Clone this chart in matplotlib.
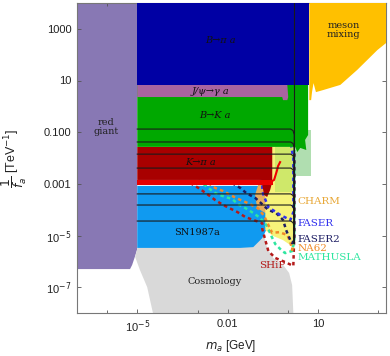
import numpy as np
import matplotlib.pyplot as plt

# region boundaries as log10(m_a / GeV), log10(1/f_a / TeV^-1)
rg_m = [-7, -5, -5, -5.07, -5.17, -5.24, -7]
rg_f = [4, 4, -5.52, -5.79, -6.14, -6.30, -6.30]

cosmo_m = [-5.0, -5.07, -4.91, -4.67, -4.48, 0.18, 0.14, 0.04, -0.16, -0.49, -0.69, -0.79, -0.85, -5.0]
cosmo_f = [-5.52, -5.83, -6.34, -7.0, -8.0, -8.0, -6.92, -6.45, -6.14, -5.87, -5.48, -4.98, -4.79, -4.79]

sn_m = [-5, -0.72, -0.72, -0.85, -1.15, -1.58, -5]
sn_f = [-3.08, -3.08, -4.79, -5.10, -5.45, -5.48, -5.48]

charm_m = [-0.65, -0.36, -0.36, -0.49, -0.75, -1.02, -1.09, -0.99]
charm_f = [-1.57, -1.57, -3.43, -4.01, -4.13, -3.94, -3.43, -3.05]

yellow_m = [-0.75, 0.21, 0.21, 0.08, -0.16, -0.49, -0.75]
yellow_f = [-1.57, -1.57, -5.56, -5.37, -5.18, -5.02, -4.79]

ygreen_m = [-0.42, 0.21, 0.21, -0.42]
ygreen_f = [-1.57, -1.57, -3.32, -3.32]

lgreen_m = [0.21, 0.76, 0.76, 0.21]
lgreen_f = [-0.92, -0.92, -2.70, -2.70]

kpi_m = [-5, -0.52, -0.52, -0.59, -0.69, -0.79, -0.85, -0.85, -5]
kpi_f = [-1.57, -1.57, -2.93, -3.24, -3.51, -3.43, -3.05, -2.85, -2.85]

kpi2_m = [-5, -0.49, -0.49, -5]
kpi2_f = [-2.85, -2.85, -3.05, -3.05]

e949_m = [-0.59, -0.52, -0.46, -0.42, -0.36, -0.33, -0.26]
e949_f = [-3.0, -2.89, -2.85, -2.70, -2.47, -2.32, -2.16]

bk_m = [-5, 0.67, 0.67, 0.57, 0.61, 0.41, 0.31, 0.24, -5]
bk_f = [0.83, 0.83, -1.11, -1.30, -1.69, -1.61, -1.77, -1.57, -1.57]

jpsi_m = [-5, -0.02, 0.01, -0.02, -0.16, -0.19, -5]
jpsi_f = [0.83, 0.83, 0.36, 0.24, 0.24, 0.36, 0.36]

bpi_m = [-5, 0.71, 0.71, -5]
bpi_f = [4, 4, 0.83, 0.83]

meson_m = [0.71, 3.3, 3.3, 2.97, 2.30, 1.74, 1.17, 0.93, 0.85, 0.80, 0.77, 0.71]
meson_f = [4, 4, 2.49, 2.18, 1.41, 0.83, 0.63, 0.55, 0.90, 0.55, 0.24, 0.24]

# projected sensitivities (dashed)
ship_m = [-3.24, -2.97, -2.64, -2.41, -2.15, -1.68, -1.42, -1.15, -0.85, -0.85, -0.75, -0.65, -0.42, -0.09, 0.18, 0.21, 0.21]
ship_f = [-2.97, -3.16, -3.43, -3.63, -3.82, -4.09, -4.28, -4.40, -4.52, -4.75, -5.18, -5.60, -5.87, -6.03, -6.18, -5.0, -1.7]
math_m = [-2.97, -2.64, -2.41, -2.15, -1.85, -1.65, -1.35, -1.15, -0.92, -0.69, -0.55, -0.42, -0.19, -0.09, 0.14, 0.21, 0.21]
math_f = [-2.85, -3.16, -3.36, -3.48, -3.59, -3.79, -3.98, -4.13, -4.32, -4.63, -5.02, -5.33, -5.60, -5.68, -5.60, -5.2, -1.7]
na62_m = [-2.64, -2.41, -2.15, -1.72, -1.32, -1.0, -0.79, -0.65, -0.52, -0.29, -0.02, 0.08, 0.14, 0.18]
na62_f = [-2.97, -3.16, -3.28, -3.55, -3.75, -3.94, -4.24, -4.59, -4.90, -4.87, -4.98, -5.25, -5.56, -5.1]
faser2_m = [-1.85, -1.58, -1.38, -1.08, -0.89, -0.65, -0.39, -0.16, -0.06, 0.08, 0.14, 0.21, 0.21]
faser2_f = [-2.97, -3.16, -3.36, -3.55, -3.75, -4.01, -4.13, -4.40, -4.79, -5.18, -5.29, -5.2, -1.7]
faser_m = [-0.85, -0.85, -0.82, -0.65, -0.26, 0.08, 0.18, 0.18, 0.11]
faser_f = [-2.80, -3.16, -3.40, -3.90, -4.20, -4.40, -4.1, -2.0, -1.55]

# black model lines
line_levels = [-0.88, -1.38, -1.85, -2.39, -3.39, -3.82, -4.44]
line_mcorner = 0.21
line_bottom = -5.3

# labels
exp_names = ['CHARM', 'FASER', 'FASER2', 'NA62', 'MATHUSLA']
exp_colors = ['#E8A838', '#3030EE', '#1E1E64', '#F08A28', '#2EE6A0']
exp_label_f = [-3.70, -4.52, -5.14, -5.49, -5.87]

L = lambda a: 10.0 ** np.asarray(a)

fig = plt.figure(figsize=(3.9, 3.56), dpi=100)
ax = fig.add_axes([77 / 390, 43 / 356, 309 / 390, 310 / 356])
ax.set_xscale('log')
ax.set_yscale('log')

ax.fill(L(rg_m), L(rg_f), color='#8878B4', lw=0, zorder=1)
ax.fill(L(cosmo_m), L(cosmo_f), color='#D9D9D9', lw=0, zorder=1)
ax.fill(L(sn_m), L(sn_f), color='#109AF0', lw=0, zorder=2)
ax.fill(L(charm_m), L(charm_f), color='#E6AE5E', lw=0, zorder=3)
ax.fill(L(yellow_m), L(yellow_f), color='#F7F37A', lw=0, zorder=3)
ax.fill(L(ygreen_m), L(ygreen_f), color='#CFE86A', lw=0, zorder=3)
ax.fill(L(lgreen_m), L(lgreen_f), color='#B0DEB0', lw=0, zorder=3)

dash = (0, (1.4, 1.3))
for mm, ff, c in [(ship_m, ship_f, '#B41A1A'), (math_m, math_f, '#2EE6A0'),
                  (na62_m, na62_f, '#F08A28'), (faser2_m, faser2_f, '#1E1E64'),
                  (faser_m, faser_f, '#3030EE')]:
    ax.plot(L(mm), L(ff), color=c, lw=1.8, ls=dash, zorder=4)

ax.fill(L(kpi_m), L(kpi_f), color='#A80000', lw=0, zorder=5)
ax.fill(L(kpi2_m), L(kpi2_f), color='#E80000', lw=0, zorder=5)
ax.plot(L(e949_m), L(e949_f), color='#F00000', lw=1.5, zorder=5)
ax.fill(L(bk_m), L(bk_f), color='#00A800', lw=0, zorder=5)
ax.fill(L(jpsi_m), L(jpsi_f), color='#A864A0', lw=0, zorder=6)
ax.fill(L(bpi_m), L(bpi_f), color='#0000A4', lw=0, zorder=6)
ax.fill(L(meson_m), L(meson_f), color='#FFC000', lw=0, zorder=6)

for lv in line_levels:
    xs = [-5, line_mcorner - 0.12, line_mcorner - 0.04, line_mcorner, line_mcorner]
    ys = [lv, lv, lv - 0.06, lv - 0.22, line_bottom]
    ax.plot(L(xs), L(ys), color='#1a1a1a', lw=0.8, zorder=7)
ax.plot(L([line_mcorner, line_mcorner]), L([4, line_bottom]), color='#1a1a1a', lw=0.8, zorder=7)

serif = 'DejaVu Serif'
fs = 7
ax.text(L(-6.04), L(-0.80), 'red\ngiant', family=serif, fontsize=fs, ha='center', va='center', color='#222222', zorder=8, linespacing=1.1)
ax.text(L(-2.25), L(2.53), 'B→π a', family=serif, style='italic', fontsize=fs, ha='center', va='center', color='#111111', zorder=8)
ax.text(L(-2.58), L(0.59), 'J/ψ→γ a', family=serif, style='italic', fontsize=fs, ha='center', va='center', color='#111111', zorder=8)
ax.text(L(-2.42), L(-0.37), 'B→K a', family=serif, style='italic', fontsize=fs, ha='center', va='center', color='#111111', zorder=8)
ax.text(L(-2.91), L(-2.19), 'K→π a', family=serif, style='italic', fontsize=fs, ha='center', va='center', color='#111111', zorder=8)
ax.text(L(-3.01), L(-4.87), 'SN1987a', family=serif, fontsize=fs, ha='center', va='center', color='#111111', zorder=8)
ax.text(L(-2.42), L(-6.80), 'Cosmology', family=serif, fontsize=fs, ha='center', va='center', color='#222222', zorder=8)
ax.text(L(1.84), L(2.95), 'meson\nmixing', family=serif, fontsize=fs, ha='center', va='center', color='#222222', zorder=8, linespacing=1.0)
for name, c, f in zip(exp_names, exp_colors, exp_label_f):
    ax.text(L(0.31), L(f), name, family=serif, fontsize=7.5, ha='left', va='center', color=c, zorder=8)
ax.text(L(-0.52), L(-6.18), 'SHiP', family=serif, fontsize=7.5, ha='center', va='center', color='#B41A1A', zorder=8)

ax.set_xlim(1e-7, 1.8e3)
ax.set_ylim(1e-8, 1e4)
ax.set_xticks([1e-5, 1e-2, 10])
ax.set_xticklabels(['10$^{-5}$', '0.01', '10'])
ax.set_xticks([1e-6, 1e-3, 1, 1e3], minor=True)
ax.xaxis.set_minor_formatter(plt.NullFormatter())
ax.set_yticks([1e3, 10, 0.1, 1e-3, 1e-5, 1e-7])
ax.set_yticklabels(['1000', '10', '0.100', '0.001', '10$^{-5}$', '10$^{-7}$'])
ax.yaxis.set_minor_locator(plt.NullLocator())
ax.tick_params(which='both', direction='in', top=True, right=True, labelsize=8, colors='#555555', labelcolor='#222222', length=3, width=0.6, pad=4)
ax.tick_params(which='minor', length=2)
for lab in ax.get_xticklabels() + ax.get_yticklabels():
    lab.set_family('Liberation Sans')
for s in ax.spines.values():
    s.set_color('#777777')
    s.set_linewidth(0.8)

fig.text(231 / 390, 10 / 356, '$m_a$ [GeV]', ha='center', va='center', fontsize=8.5, family='Liberation Sans', color='#222222')
fig.text(14 / 390, 0.555, r'$\dfrac{1}{f_a}$ [TeV$^{-1}$]', ha='center', va='center', rotation=90, fontsize=9, family='Liberation Sans', color='#222222')

fig.savefig('out.png', dpi=100)
